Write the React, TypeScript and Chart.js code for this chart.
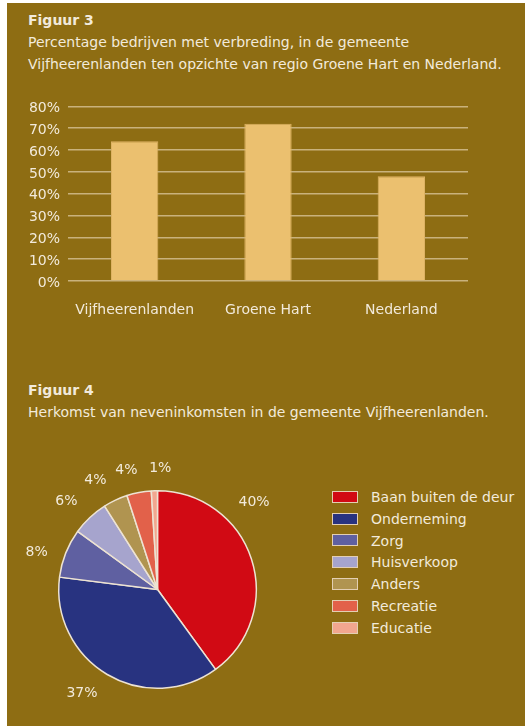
import React, { useEffect, useRef } from "react";
import { Chart, registerables } from "chart.js";

Chart.register(...registerables);

// ---- Data ----
const barCategories = ["Vijfheerenlanden", "Groene Hart", "Nederland"];
const barValues = [64, 72, 48];
const yTickMax = 80;
const yTickStep = 10;

const pieLabels = [
  "Baan buiten de deur",
  "Onderneming",
  "Zorg",
  "Huisverkoop",
  "Anders",
  "Recreatie",
  "Educatie",
];
const pieValues = [40, 37, 8, 6, 4, 4, 1];

// ---- Styles ----
const BG = "#8E6D13";
const TEXT = "#F2EADB";
const GRID = "#C9B27C";
const BAR = "#EBC06F";
const BAR_BORDER = "#DDB263";
const PIE_COLORS = ["#D10A14", "#283380", "#5F60A1", "#A6A4CD", "#B09450", "#E2614A", "#F2A68F"];
const PIE_BORDER = "#EDE3D3";
const FONT = "'DejaVu Sans', Verdana, sans-serif";
const LABEL_ANGLE_SHIFT = [-24, 5.4, -4.6, -2.8, -4.5, -3.8, 3.1];

const pieLabelPlugin = {
  id: "pieOutsideLabels",
  afterDatasetsDraw(chart: any) {
    const meta = chart.getDatasetMeta(0);
    const ctx = chart.ctx as CanvasRenderingContext2D;
    const values = chart.data.datasets[0].data as number[];
    ctx.save();
    ctx.font = `14px ${FONT}`;
    ctx.fillStyle = TEXT;
    ctx.textAlign = "center";
    ctx.textBaseline = "middle";
    meta.data.forEach((arc: any, i: number) => {
      const { x, y, startAngle, endAngle, outerRadius } = arc.getProps(
        ["x", "y", "startAngle", "endAngle", "outerRadius"],
        true
      );
      const a = (startAngle + endAngle) / 2 + ((LABEL_ANGLE_SHIFT[i] || 0) * Math.PI) / 180;
      const text = `${values[i]}%`;
      const w = ctx.measureText(text).width;
      const h = 14;
      const ext = (Math.abs(Math.cos(a)) * w) / 2 + (Math.abs(Math.sin(a)) * h) / 2;
      const d = outerRadius + 15 + ext;
      ctx.fillText(text, x + Math.cos(a) * d, y + Math.sin(a) * d);
    });
    ctx.restore();
  },
};

export default function App() {
  const barRef = useRef<HTMLCanvasElement | null>(null);
  const pieRef = useRef<HTMLCanvasElement | null>(null);

  useEffect(() => {
    document.body.style.margin = "0";
    const bar = new Chart(barRef.current as HTMLCanvasElement, {
      type: "bar",
      data: {
        labels: barCategories,
        datasets: [
          {
            data: barValues,
            backgroundColor: BAR,
            borderColor: BAR_BORDER,
            borderWidth: 1,
            barPercentage: 0.355,
            categoryPercentage: 1,
          },
        ],
      },
      options: {
        responsive: false,
        animation: false,
        layout: { padding: { left: 21, right: 57, top: 15, bottom: 0 } },
        plugins: { legend: { display: false }, tooltip: { enabled: false } },
        scales: {
          x: {
            grid: { display: false, drawTicks: false },
            border: { display: false },
            ticks: { color: TEXT, font: { family: FONT, size: 14 }, padding: 21, maxRotation: 0 },
            afterFit: (s: any) => {
              s.height = 49;
            },
          },
          y: {
            min: 0,
            max: yTickMax,
            grid: { color: GRID, lineWidth: 1.5, drawTicks: false },
            border: { display: false },
            ticks: {
              stepSize: yTickStep,
              color: TEXT,
              font: { family: FONT, size: 14 },
              padding: 8,
              labelOffset: 2,
              callback: (v: any) => `${v}%`,
            },
            afterFit: (s: any) => {
              s.width = 40;
            },
          },
        },
      },
    });

    const pie = new Chart(pieRef.current as HTMLCanvasElement, {
      type: "pie",
      data: {
        labels: pieLabels,
        datasets: [
          {
            data: pieValues,
            backgroundColor: PIE_COLORS,
            borderColor: PIE_BORDER,
            borderWidth: 1.5,
          },
        ],
      },
      options: {
        responsive: false,
        animation: false,
        layout: { padding: { left: 51, top: 50, right: 63, bottom: 37 } },
        plugins: { legend: { display: false }, tooltip: { enabled: false } },
      },
      plugins: [pieLabelPlugin],
    });

    return () => {
      bar.destroy();
      pie.destroy();
    };
  }, []);

  const textStyle: React.CSSProperties = {
    position: "absolute",
    left: 28,
    color: TEXT,
    fontFamily: FONT,
    fontSize: 14,
    lineHeight: "22px",
    whiteSpace: "nowrap",
    margin: 0,
  };

  return (
    <div
      style={{
        position: "fixed",
        left: 0,
        top: 0,
        width: 525,
        height: 726,
        background: "#ffffff",
        overflow: "hidden",
      }}
    >
      <div style={{ position: "absolute", left: 7, top: 3, right: 0, bottom: 0, background: BG }} />
      <div style={{ ...textStyle, top: 9, fontWeight: "bold" }}>Figuur 3</div>
      <div style={{ ...textStyle, top: 32, lineHeight: "21.5px" }}>
        Percentage bedrijven met verbreding, in de gemeente
        <br />
        Vijfheerenlanden ten opzichte van regio Groene Hart en Nederland.
      </div>
      <canvas
        ref={barRef}
        width={518}
        height={240}
        style={{ position: "absolute", left: 7, top: 90, width: 518, height: 240 }}
      />
      <div style={{ ...textStyle, top: 379, fontWeight: "bold" }}>Figuur 4</div>
      <div style={{ ...textStyle, top: 401 }}>Herkomst van neveninkomsten in de gemeente Vijfheerenlanden.</div>
      <canvas
        ref={pieRef}
        width={313}
        height={286}
        style={{ position: "absolute", left: 7, top: 440, width: 313, height: 286 }}
      />
      <div style={{ position: "absolute", left: 332, top: 486 }}>
        {pieLabels.map((lab, i) => (
          <div key={lab} style={{ display: "flex", alignItems: "center", height: 21.8 }}>
            <div
              style={{
                width: 24,
                height: 10,
                background: PIE_COLORS[i],
                border: "1px solid #E3CFB3",
                marginRight: 13,
                flex: "none",
              }}
            />
            <span
              style={{
                color: TEXT,
                fontFamily: FONT,
                fontSize: 14,
                lineHeight: "22px",
                whiteSpace: "nowrap",
              }}
            >
              {lab}
            </span>
          </div>
        ))}
      </div>
    </div>
  );
}
